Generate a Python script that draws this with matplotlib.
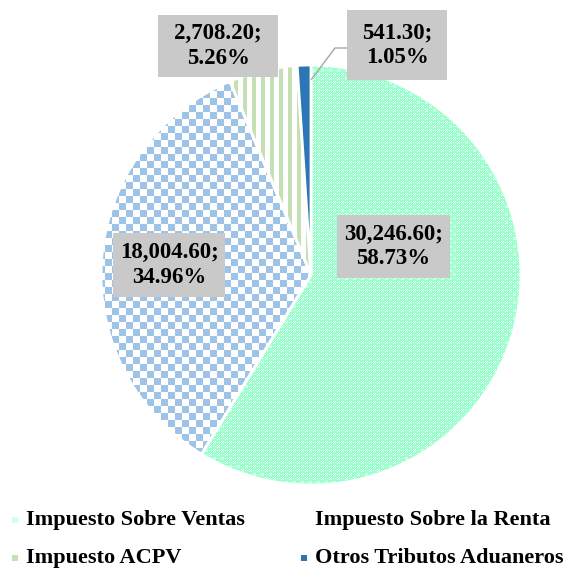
import numpy as np
import matplotlib
matplotlib.use("Agg")
import matplotlib.pyplot as plt
from matplotlib.patches import Rectangle

# Recaudación por tipo de tributo
categories = ["Impuesto Sobre Ventas", "Impuesto Sobre la Renta",
              "Impuesto ACPV", "Otros Tributos Aduaneros"]
values = [30246.60, 18004.60, 2708.20, 541.30]

W, H = 584, 575
MINT = np.array([153, 255, 204]) / 255
BLUE = np.array([157, 195, 230]) / 255
GREEN = np.array([197, 224, 180]) / 255
DARK = "#2E75B6"

fig = plt.figure(figsize=(W / 100, H / 100), dpi=100)
ax = fig.add_axes([0, 0, 1, 1])


def Y(y):
    """Convert a top-down pixel row into data coordinates."""
    return H - y


# --- fill textures (one texel per output pixel) ---
yy, xx = np.mgrid[0:H, 0:W]


def paint(mask, color):
    img = np.ones((H, W, 4))
    img[mask, :3] = color
    return img


# blue checkerboard
tex_renta = paint(((xx // 7 + yy // 7) % 2) == 0, BLUE)
# green vertical stripes
tex_acpv = paint((xx % 9) < 4, GREEN)
# mint dotted checker
cx, cy = xx % 8, yy % 8


def wrap_d2(c, c0, n=8):
    d = np.abs(c - c0)
    return np.minimum(d, n - d) ** 2


d1 = wrap_d2(cx, 2) + wrap_d2(cy, 2)
d2 = wrap_d2(cx, 6) + wrap_d2(cy, 6)
dots = (d1 <= 9) | (d2 <= 9)
dash = ((cy == 2) & (cx >= 1) & (cx <= 3)) | ((cy == 6) & (cx >= 5) & (cx <= 7))
tex_ventas = paint(dots & ~dash, MINT)
tex_ventas[dots & dash, :3] = 0.6 * MINT + 0.4
textures = [tex_ventas, tex_renta, tex_acpv, None]

# --- pie ---
center = (311, Y(275))
radius = 210
wedges, _ = ax.pie(values, startangle=90, counterclock=False,
                   center=center, radius=radius, frame=True,
                   colors=["none", "none", "none", DARK],
                   wedgeprops=dict(edgecolor="white", linewidth=2))
for w, tex in zip(wedges, textures):
    w.set_zorder(3)
    if tex is not None:
        im = ax.imshow(tex, extent=(0, W, 0, H), origin="upper",
                       interpolation="nearest", zorder=2)
        im.set_clip_path(w)

# --- value labels ---
total = sum(values)
label_boxes = [  # (cx, cy, w, h) in pixels from top-left
    (393.5, 246.5, 113, 63),
    (169, 265, 112, 64),
    (218, 46, 120, 62),
    (397, 45, 100, 70),
]
font = dict(family=["Liberation Serif", "DejaVu Serif"], weight="bold", size=16.5)
for v, (bx, by, bw, bh) in zip(values, label_boxes):
    ax.add_patch(Rectangle((bx - bw / 2, Y(by + bh / 2)), bw, bh,
                           facecolor="#C9C9C9", edgecolor="none", zorder=5))
    ax.text(bx, Y(by), f"{v:,.2f};\n{v / total * 100:.2f}%", ha="center",
            va="center", multialignment="center", linespacing=1.25,
            color="black", zorder=6, **font)

# leader line for the smallest slice
ax.plot([347, 335, 311], [Y(48), Y(48), Y(80)], color="#A6A6A6",
        linewidth=1, zorder=4, solid_capstyle="butt")

# --- legend ---
legend_marks = [(MINT * 0.45 + 0.55), (1, 1, 1), GREEN, DARK]
legend_pos = [(12, 520), (301, 520), (12, 558), (301, 558)]
for name, col, (lx, ly) in zip(categories, legend_marks, legend_pos):
    ax.add_patch(Rectangle((lx, Y(ly + 3)), 6, 6, facecolor=col,
                           edgecolor="none", zorder=5))
    ax.text(lx + 14, Y(ly), name, ha="left", va="center", color="black",
            zorder=6, **dict(font, size=16))

ax.set_xlim(0, W)
ax.set_ylim(0, H)
ax.set_aspect("auto")
ax.axis("off")
fig.savefig("out.png", dpi=100, facecolor="white")
